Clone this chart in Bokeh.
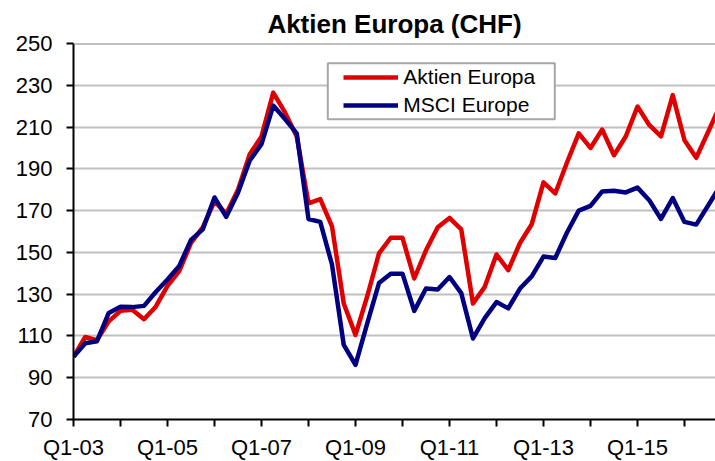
from bokeh.plotting import figure
from bokeh.models import Range1d, FixedTicker, Legend, LegendItem, Span, BoxAnnotation, ColumnDataSource
from bokeh.embed import file_html
from bokeh.resources import INLINE

# Quarters Q1-03 ... Q4-16
quarters = [f"Q{q}-{y:02d}" for y in range(3, 17) for q in range(1, 5)]

aktien_europa = [100, 109.5, 108, 117, 122, 122.5, 118, 124, 134, 141,
                 154.5, 162, 174.5, 168.5, 180, 197, 205.5, 226.5, 217, 205.5,
                 173.5, 175.5, 162.5, 125.5, 110.5, 129, 149.5, 157, 157, 137.5,
                 151, 162, 166.5, 161, 125.5, 133.5, 149, 141.5, 154.5, 163.5,
                 183.5, 178.2, 193, 207, 200, 208.8, 196.5, 205.5, 219.8, 211,
                 205.5, 225.3, 203.7, 195.3, 207.5, 220]

msci_europe = [100, 106.5, 107.5, 121, 124, 123.8, 124.4, 131, 137, 143.5,
               156, 161, 176.3, 167, 178.6, 194, 201.8, 220.3, 213.8, 207,
               166, 164.6, 144.2, 105.7, 96.2, 116, 135.3, 139.8, 139.8, 122,
               132.7, 132.2, 138.2, 130.5, 108.8, 118.5, 126.2, 123.2, 132.7, 138.5,
               148, 147.3, 159.5, 170, 172.3, 179.2, 179.5, 178.7, 181, 175,
               166, 176, 164.6, 163.3, 172.3, 181.5]

x_tick_labels = ["Q1-03", "Q1-05", "Q1-07", "Q1-09", "Q1-11", "Q1-13", "Q1-15"]
x_minor_labels = ["Q1-04", "Q1-06", "Q1-08", "Q1-10", "Q1-12", "Q1-14", "Q1-16"]
y_ticks = [70, 90, 110, 130, 150, 170, 190, 210, 230, 250]

FONT = "Liberation Sans"
RED = "#e00000"
BLUE = "#000080"

src = ColumnDataSource(dict(x=list(range(len(quarters))), q=quarters,
                            a=aktien_europa, m=msci_europe))

p = figure(frame_width=642, frame_height=376, output_backend="svg", toolbar_location=None,
           x_range=Range1d(0, 54.64), y_range=Range1d(70, 250),
           min_border_left=73, min_border_right=0, min_border_top=43, min_border_bottom=42)
p.background_fill_color = "white"
p.border_fill_color = "white"
p.outline_line_color = None

p.title.text = "Aktien Europa (CHF)"
p.title.text_font = FONT
p.title.text_font_size = "26px"
p.title.text_font_style = "bold"
p.title.align = "center"
p.title.vertical_align = "top"
p.title.text_color = "black"
p.title.standoff = 6

r1 = p.line("x", "a", source=src, line_color=RED, line_width=4.5, line_join="round")
r2 = p.line("x", "m", source=src, line_color=BLUE, line_width=4.5, line_join="round")

# axes
xax = p.xaxis[0]
xax.ticker = FixedTicker(ticks=[quarters.index(t) for t in x_tick_labels],
                         minor_ticks=[quarters.index(t) for t in x_minor_labels])
xax.major_label_overrides = {quarters.index(t): t for t in x_tick_labels}
yax = p.yaxis[0]
yax.ticker = FixedTicker(ticks=y_ticks)
for ax in (xax, yax):
    ax.axis_line_color = "black"
    ax.axis_line_width = 2
    ax.major_tick_line_color = "black"
    ax.major_tick_line_width = 2
    ax.major_tick_in = 0
    ax.major_tick_out = 7
    ax.minor_tick_line_color = "black"
    ax.minor_tick_line_width = 2
    ax.minor_tick_in = 0
    ax.minor_tick_out = 7
    ax.major_label_text_font = FONT
    ax.major_label_text_font_size = "22px"
    ax.major_label_text_color = "black"
yax.minor_tick_line_color = None
yax.major_label_standoff = 14
xax.major_label_standoff = 8

p.xgrid.grid_line_color = None
p.ygrid.ticker = FixedTicker(ticks=y_ticks)
p.ygrid.grid_line_color = "#c0c0c0"
p.ygrid.grid_line_width = 2

p.add_layout(Span(location=250, dimension="width", line_color="#808080", line_width=2))

box = BoxAnnotation(left=254.3, right=481.3, bottom=300.3, top=356.3,
                    left_units="screen", right_units="screen",
                    bottom_units="screen", top_units="screen",
                    fill_color="white", fill_alpha=1.0,
                    line_color="#a6a6a6", line_width=2, line_alpha=1.0, line_dash="solid")
p.add_layout(box)

legend = Legend(items=[LegendItem(label="Aktien Europa", renderers=[r1]),
                       LegendItem(label="MSCI Europe", renderers=[r2])],
                location=(270.3, 301.6), padding=0, margin=0, spacing=4,
                glyph_width=55, glyph_height=24, label_height=24, label_standoff=5,
                border_line_color=None, background_fill_alpha=0,
                label_text_font=FONT, label_text_font_size="21px", label_text_color="black")
p.add_layout(legend)

open("out.html", "w").write(file_html(p, INLINE))
